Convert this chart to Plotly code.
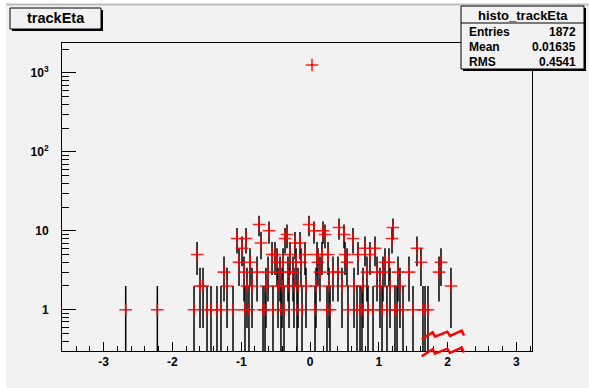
import numpy as np
import plotly.graph_objects as go

# ---- data (bin centre in eta, bin content) ----
eta = [-2.679, -2.219, -1.686, -1.642, -1.599, -1.555, -1.497, -1.439, -1.352, -1.294,
       -1.250, -1.206, -1.119, -1.061, -1.032, -0.988, -0.959, -0.945, -0.930, -0.916,
       -0.887, -0.872, -0.843, -0.770, -0.741, -0.712, -0.683, -0.654, -0.640, -0.610,
       -0.596, -0.552, -0.538, -0.509, -0.480, -0.465, -0.436, -0.422, -0.407, -0.392,
       -0.378, -0.363, -0.334, -0.320, -0.305, -0.291, -0.247, -0.233, -0.218, -0.203,
       -0.189, -0.174, -0.145, -0.131, -0.116, -0.073, -0.058, -0.015, 0.029, 0.058,
       0.073, 0.087, 0.102, 0.116, 0.145, 0.174, 0.189, 0.218, 0.247, 0.262,
       0.276, 0.291, 0.334, 0.407, 0.422, 0.465, 0.494, 0.509, 0.538, 0.552,
       0.625, 0.640, 0.683, 0.698, 0.727, 0.756, 0.770, 0.799, 0.828, 0.843,
       0.872, 0.916, 0.945, 0.974, 1.017, 1.047, 1.061, 1.090, 1.119, 1.148,
       1.163, 1.192, 1.206, 1.235, 1.265, 1.279, 1.308, 1.352, 1.439, 1.497,
       1.555, 1.613, 1.642, 1.672, 1.715, 1.875, 1.904, 2.049]
counts = [1, 1, 1, 5, 2, 2, 1, 1, 1, 1,
          3, 2, 1, 8, 4, 6, 3, 1, 8, 2,
          1, 4, 2, 3, 12, 7, 1, 1, 2, 3,
          10, 5, 1, 5, 4, 2, 3, 1, 2, 4,
          1, 8, 9, 3, 2, 5, 3, 2, 7, 4,
          1, 2, 7, 4, 1, 5, 2, 12, 1265, 10,
          1, 2, 5, 4, 3, 5, 10, 9, 1, 5,
          2, 1, 3, 3, 11, 2, 9, 5, 4, 1,
          8, 2, 1, 5, 1, 1, 2, 6, 3, 1,
          5, 1, 6, 3, 2, 1, 3, 4, 1, 4,
          2, 8, 11, 1, 1, 3, 2, 1, 3, 1,
          6, 4, 1, 1, 1, 3, 4, 2]

x_ticks = [-3, -2, -1, 0, 1, 2, 3]
y_ticks = [1, 10, 100, 1000]
y_ticktext = ["1", "10", "10<sup>2</sup>", "10<sup>3</sup>"]
stat_labels = ["Entries", "Mean", "RMS"]
stat_values = ["1872", "0.01635", "0.4541"]

cnt = np.array(counts, dtype=float)
err = np.sqrt(cnt)
err_minus = cnt - np.maximum(cnt - err, 1e-3)

W, H = 589, 388
L, R, T, B = 62, 532, 43, 351

def px(x):
    return (x - L) / (R - L)

def py(y):
    return (B - y) / (B - T)

FONT = "Liberation Sans, Arial, sans-serif"
BG = "#f2f2f2"

fig = go.Figure()
fig.add_trace(go.Scatter(
    x=eta, y=counts, mode="markers",
    marker=dict(symbol="cross-thin", size=9, line=dict(color="rgba(255,0,0,0.85)", width=1.6)),
    error_y=dict(type="data", symmetric=False, array=err, arrayminus=err_minus,
                 color="black", thickness=1.5, width=0),
    showlegend=False, cliponaxis=True,
))

minor_y = [k * 10.0 ** d for d in range(-1, 4) for k in range(2, 10)]

shapes = []
shapes.append(dict(type="rect", xref="paper", yref="paper", x0=px(0), x1=px(6), y0=py(H), y1=py(0),
                   fillcolor="white", line=dict(width=0), layer="below"))
shapes.append(dict(type="rect", xref="paper", yref="paper", x0=px(0), x1=px(W), y0=py(4), y1=py(0),
                   fillcolor="white", line=dict(width=0), layer="below"))
shapes.append(dict(type="line", xref="paper", yref="paper", x0=px(6), x1=px(W), y0=py(4.5), y1=py(4.5),
                   line=dict(color="#bdbdbd", width=2)))
# title box with shadow
shapes.append(dict(type="rect", xref="paper", yref="paper", x0=px(12), x1=px(103), y0=py(31), y1=py(10),
                   fillcolor="black", line=dict(width=0)))
shapes.append(dict(type="rect", xref="paper", yref="paper", x0=px(10), x1=px(101), y0=py(29), y1=py(8),
                   fillcolor=BG, line=dict(color="black", width=1)))
# stats box with shadow
shapes.append(dict(type="rect", xref="paper", yref="paper", x0=px(463), x1=px(586), y0=py(71), y1=py(8),
                   fillcolor="black", line=dict(width=0)))
shapes.append(dict(type="rect", xref="paper", yref="paper", x0=px(461), x1=px(584), y0=py(69), y1=py(6),
                   fillcolor=BG, line=dict(color="black", width=1)))
shapes.append(dict(type="line", xref="paper", yref="paper", x0=px(461), x1=px(584), y0=py(23), y1=py(23),
                   line=dict(color="black", width=1)))
# red zig-zag marks near the bottom
for dy in (0, 17):
    pts = [(421.7, 339.3), (432.7, 332.3), (435, 336.7), (447.3, 331.7), (450, 336),
           (461.7, 330.7), (464, 335.5)]
    path = "M " + " L ".join(f"{px(a):.5f},{py(b + dy):.5f}" for a, b in pts)
    shapes.append(dict(type="path", xref="paper", yref="paper", path=path,
                       line=dict(color="red", width=2.5)))

annotations = [
    dict(text="<b>trackEta</b>", xref="paper", yref="paper", x=px(55.5), y=py(18.5),
         xanchor="center", yanchor="middle", showarrow=False,
         font=dict(family=FONT, size=14.5, color="black")),
    dict(text="<b>histo_trackEta</b>", xref="paper", yref="paper", x=px(522.5), y=py(15),
         xanchor="center", yanchor="middle", showarrow=False,
         font=dict(family=FONT, size=13, color="black")),
]
for i, (lab, val) in enumerate(zip(stat_labels, stat_values)):
    yy = 32 + 15 * i
    annotations.append(dict(text=f"<b>{lab}</b>", xref="paper", yref="paper", x=px(467), y=py(yy),
                            xanchor="left", yanchor="middle", showarrow=False,
                            font=dict(family=FONT, size=12, color="black")))
    annotations.append(dict(text=f"<b>{val}</b>", xref="paper", yref="paper", x=px(578), y=py(yy),
                            xanchor="right", yanchor="middle", showarrow=False,
                            font=dict(family=FONT, size=12, color="black")))

fig.update_layout(
    width=W, height=H,
    margin=dict(l=L, r=W - R, t=T, b=H - B, pad=0),
    paper_bgcolor=BG, plot_bgcolor=BG,
    shapes=shapes, annotations=annotations,
    xaxis=dict(range=[-3.605, 3.227], tickvals=x_ticks, ticktext=[str(v) for v in x_ticks],
               ticks="inside", ticklen=9, tickcolor="black", tickwidth=1,
               minor=dict(ticks="inside", dtick=0.2, tick0=0, ticklen=5, tickcolor="black", showgrid=False),
               showgrid=False, zeroline=False, showline=True, linecolor="black", linewidth=1, mirror=True,
               tickfont=dict(family=FONT, size=12, color="black", weight="bold")),
    yaxis=dict(type="log", range=[-0.523, 3.38], tickvals=y_ticks, ticktext=y_ticktext,
               ticks="inside", ticklen=14, tickcolor="black", tickwidth=1,
               minor=dict(ticks="inside", tickvals=minor_y, ticklen=7, tickcolor="black", showgrid=False),
               showgrid=False, zeroline=False, showline=True, linecolor="black", linewidth=1, mirror=True,
               ticklabelstandoff=10,
               tickfont=dict(family=FONT, size=12, color="black", weight="bold")),
)

fig.write_html("out.html", config={"displayModeBar": False},
               post_script="document.body.style.margin='0';document.body.style.background='white';")
